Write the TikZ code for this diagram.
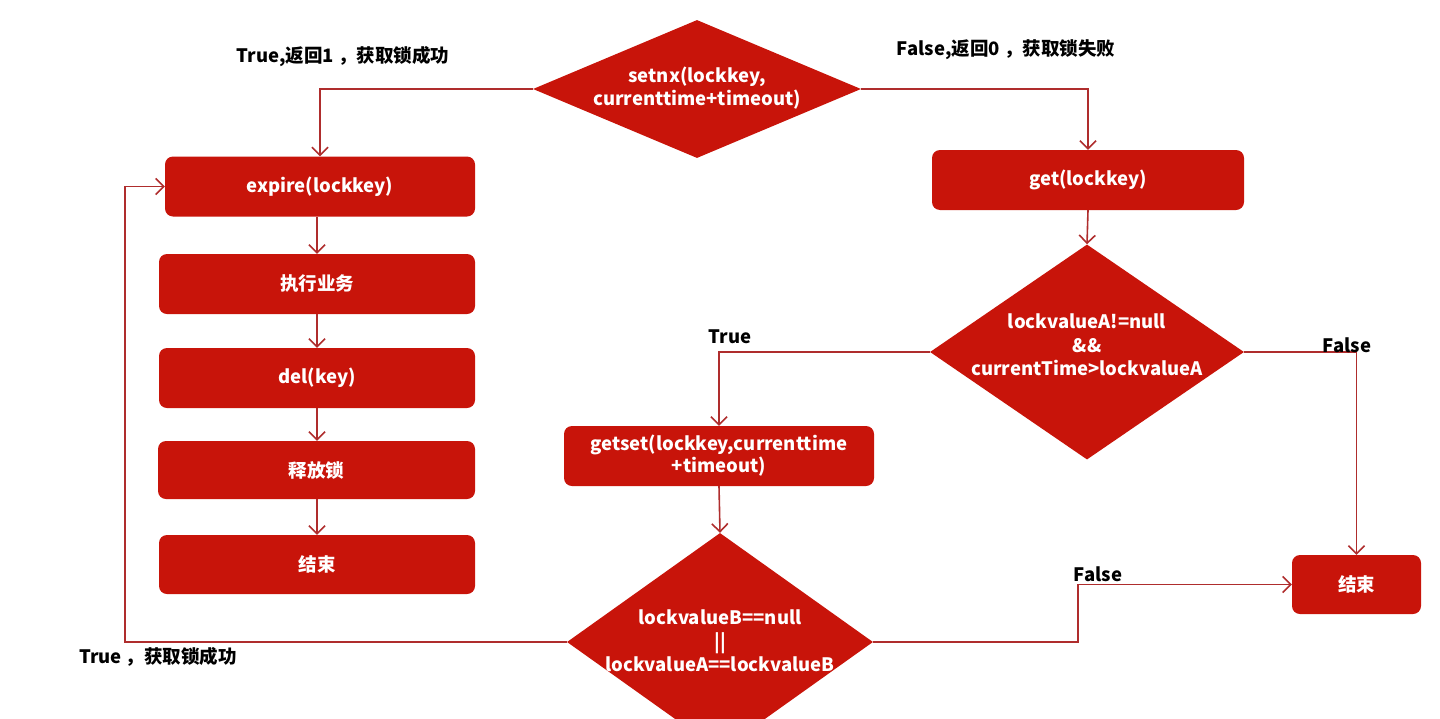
\documentclass[tikz,border=0pt]{standalone}
\usepackage{fontspec}
\setmainfont{Noto Sans CJK SC}
\usetikzlibrary{shapes.geometric,arrows.meta}
\definecolor{boxred}{RGB}{200,20,10}
\definecolor{linered}{RGB}{175,45,45}
\begin{document}
\begin{tikzpicture}[x=1pt,y=-1pt,
  box/.style={fill=boxred, rounded corners=8pt, minimum height=60pt, text=white,
    font=\fontsize{18.5}{22}\selectfont\bfseries, inner sep=0pt, align=center},
  dia/.style={diamond, fill=boxred, inner sep=0pt},
  dtext/.style={text=white, font=\fontsize{18.5}{23.5}\selectfont\bfseries, align=center, inner sep=0pt},
  lbl/.style={text=black, font=\fontsize{18.5}{22}\selectfont\bfseries, inner sep=0pt},
  conn/.style={draw=linered, line width=1.6pt, -{Straight Barb[length=8pt,width=16pt]}}
]
\useasboundingbox (0,0) rectangle (1440,718);
\clip (0,0) rectangle (1440,718);

% diamonds
\node[dia, minimum width=328pt, minimum height=138pt] (d1) at (697,89) {};
\node[dtext] (d1t) at (697,88) {setnx(lockkey,\\currenttime+timeout)};
\node[dia, minimum width=314pt, minimum height=215pt] (d2) at (1087,352) {};
\node[dtext] (d2t) at (1087,345) {lockvalueA!=null\\\&\&\\currentTime>lockvalueA};
\node[dia, minimum width=306pt, minimum height=218pt] (d3) at (720,642) {};
\node[dtext] (d3t) at (720,641) {lockvalueB==null\\||\\lockvalueA==lockvalueB};

% boxes
\node[box, minimum width=310pt] (expire) at (320,186.5) {expire(lockkey)};
\node[box, minimum width=316pt] (exec) at (317,284) {执行业务};
\node[box, minimum width=316pt] (del) at (317,378) {del(key)};
\node[box, minimum width=317pt, minimum height=58pt] (rel) at (316.5,470) {释放锁};
\node[box, minimum width=316pt, minimum height=59pt] (end1) at (317,564.5) {结束};
\node[box, minimum width=312pt] (get) at (1088,180) {get(lockkey)};
\node[box, minimum width=310pt] (getset) at (719,456) {getset(lockkey,currenttime\\+timeout)};
\node[box, minimum width=129pt, minimum height=59pt] (end2) at (1356.5,584.5) {结束};

% connectors
\coordinate (k1) at (1078,642);
\coordinate (k2) at (125,642);
\draw[conn] (d1.west) -| (expire.north);
\draw[conn] (d1.east) -| (get.north);
\draw[conn] (expire.south -| exec.north) -- (exec.north);
\draw[conn] (exec.south) -- (del.north);
\draw[conn] (del.south) -- (rel.north -| del.south);
\draw[conn] (rel.south -| end1.north) -- (end1.north);
\draw[conn] (get.south) -- (d2.north);
\draw[conn] (d2.west) -| (getset.north);
\draw[conn] (d2.east) -| (end2.north);
\draw[conn] (getset.south) -- (d3.north);
\draw[conn] (d3.east) -- (k1) |- (end2.west);
\draw[conn] (d3.west) -- (k2) |- (expire.west);

% labels
\node[lbl] (l1) at (343,57) {True,返回1 ，获取锁成功};
\node[lbl] (l2) at (1006,50) {False,返回0 ，获取锁失败};
\node[lbl] (l3) at (730,337) {True};
\node[lbl] (l4) at (1347,345) {False};
\node[lbl] (l5) at (1098,574) {False};
\node[lbl] (l6) at (158,657) {True ，获取锁成功};
\end{tikzpicture}
\end{document}
